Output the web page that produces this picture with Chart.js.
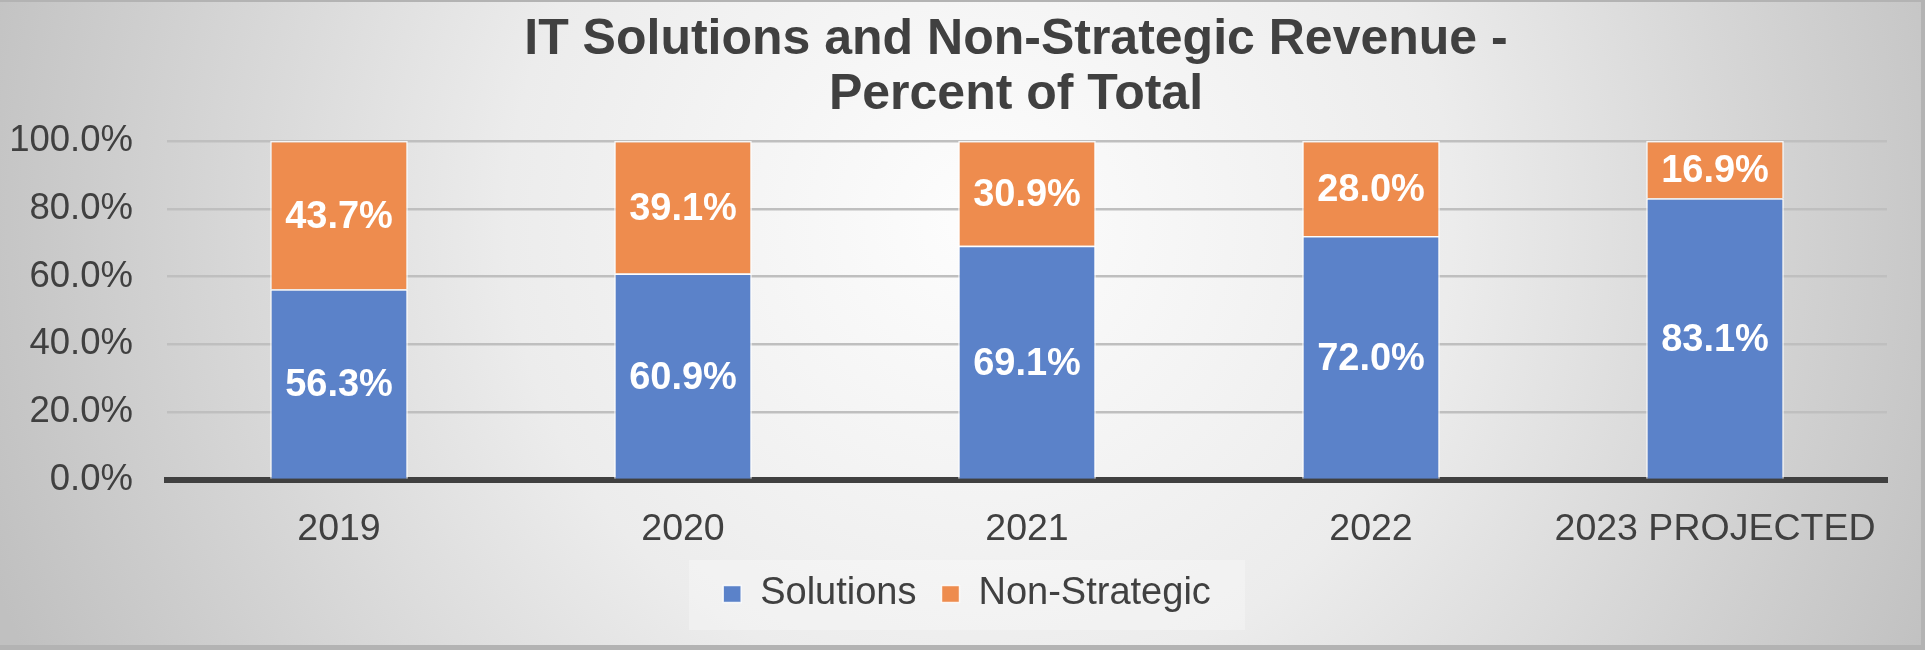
<!DOCTYPE html>
<html>
<head>
<meta charset="utf-8">
<script src="https://cdn.jsdelivr.net/npm/chart.js@4"></script>
<style>
  html, body { margin: 0; padding: 0; background: #ffffff; }
  #wrap { width: 1925px; height: 650px; }
</style>
</head>
<body>
<div id="wrap"><canvas id="revChart" width="1925" height="650"></canvas></div>
<script>
// chart data
const years = ['2019', '2020', '2021', '2022', '2023 PROJECTED'];
const solutions = [56.3, 60.9, 69.1, 72.0, 83.1];
const nonStrategic = [43.7, 39.1, 30.9, 28.0, 16.9];
const titleLines = ['IT Solutions and Non-Strategic Revenue -', 'Percent of Total'];

const FONT = '"Liberation Sans", Arial, sans-serif';
const TEXT = '#404040';

// background + legend panel, drawn before everything else
const backdrop = {
    id: 'backdrop',
    afterLayout(chart) {
        // title sits a little left of the plot centre
        if (chart.titleBlock) chart.titleBlock.left = chart.chartArea.left - 22;
    },
    beforeDraw(chart) {
        const c = chart.ctx;
        const w = chart.width, h = chart.height;
        c.save();
        const g = c.createRadialGradient(980, 220, 0, 980, 220, 1050);
        g.addColorStop(0, '#fdfdfd');
        g.addColorStop(0.45, '#ececec');
        g.addColorStop(1, '#c0c0c0');
        c.fillStyle = g;
        c.fillRect(0, 0, w, h);

        // legend panel
        const boxes = chart.legend && chart.legend.legendHitBoxes;
        if (boxes && boxes.length) {
            const minX = Math.min(...boxes.map(b => b.left));
            const maxX = Math.max(...boxes.map(b => b.left + b.width));
            const cx = (minX + maxX) / 2;
            c.fillStyle = 'rgba(255,255,255,0.28)';
            c.fillRect(cx - 278, 560, 556, 70);
        }

        // outer frame
        c.fillStyle = '#b3b3b3';
        c.fillRect(0, 0, w, 2);
        c.fillRect(w - 4, 0, 4, h);
        c.fillRect(0, h - 5, w, 5);
        c.restore();
    }
};

// value labels in the middle of each segment
const segLabels = {
    id: 'segLabels',
    afterDatasetsDraw(chart) {
        const c = chart.ctx;
        c.save();
        c.font = 'bold 38px ' + FONT;
        c.fillStyle = '#ffffff';
        c.textAlign = 'center';
        c.textBaseline = 'middle';
        chart.data.datasets.forEach((ds, i) => {
            const meta = chart.getDatasetMeta(i);
            meta.data.forEach((bar, j) => {
                const p = bar.getCenterPoint();
                c.fillText(ds.data[j].toFixed(1) + '%', p.x, p.y + 2);
            });
        });
        c.restore();
    }
};

const ctx = document.getElementById('revChart');
new Chart(ctx, {
    type: 'bar',
    data: {
        labels: years,
        datasets: [{
            label: 'Solutions',
            data: solutions,
            backgroundColor: '#5B82C9',
            borderColor: 'rgba(255,255,255,0.85)',
            borderWidth: 1.5,
            barPercentage: 0.4,
            categoryPercentage: 1
        }, {
            label: 'Non-Strategic',
            data: nonStrategic,
            backgroundColor: '#EE8C4E',
            borderColor: 'rgba(255,255,255,0.85)',
            borderWidth: 1.5,
            barPercentage: 0.4,
            categoryPercentage: 1
        }]
    },
    options: {
        responsive: false,
        animation: false,
        devicePixelRatio: 1,
        layout: { padding: { left: 9, right: 0, top: 0, bottom: 27 } },
        scales: {
            x: {
                stacked: true,
                grid: { display: false, drawTicks: false },
                border: { display: true, color: '#404040', width: 6 },
                ticks: { color: TEXT, font: { family: FONT, size: 37.5 }, padding: 27 },
                afterFit: s => { s.height = 70; }
            },
            y: {
                stacked: true,
                min: 0,
                max: 100,
                ticks: {
                    stepSize: 20,
                    color: TEXT,
                    font: { family: FONT, size: 36.5 },
                    padding: 34,
                    callback: v => v.toFixed(1) + '%'
                },
                grid: { color: '#bfbfbf', lineWidth: 2.5, drawTicks: false },
                border: { display: false },
                afterFit: s => { s.width = 158; }
            },
            // empty axis on the right to keep the plot area off the edge
            spacer: {
                type: 'linear',
                position: 'right',
                grid: { display: false, drawTicks: false },
                border: { display: false },
                ticks: { display: false },
                afterFit: s => { s.width = 38; }
            }
        },
        plugins: {
            title: {
                display: true,
                fullSize: false,
                text: titleLines,
                color: TEXT,
                font: { family: FONT, size: 50, weight: 'bold', lineHeight: 1.1 },
                padding: { top: 13, bottom: 18 }
            },
            legend: {
                position: 'bottom',
                labels: {
                    color: TEXT,
                    font: { family: FONT, size: 38 },
                    boxWidth: 18,
                    boxHeight: 17,
                    padding: 25
                }
            },
            tooltip: { enabled: false }
        }
    },
    plugins: [backdrop, segLabels]
});
</script>
</body>
</html>
